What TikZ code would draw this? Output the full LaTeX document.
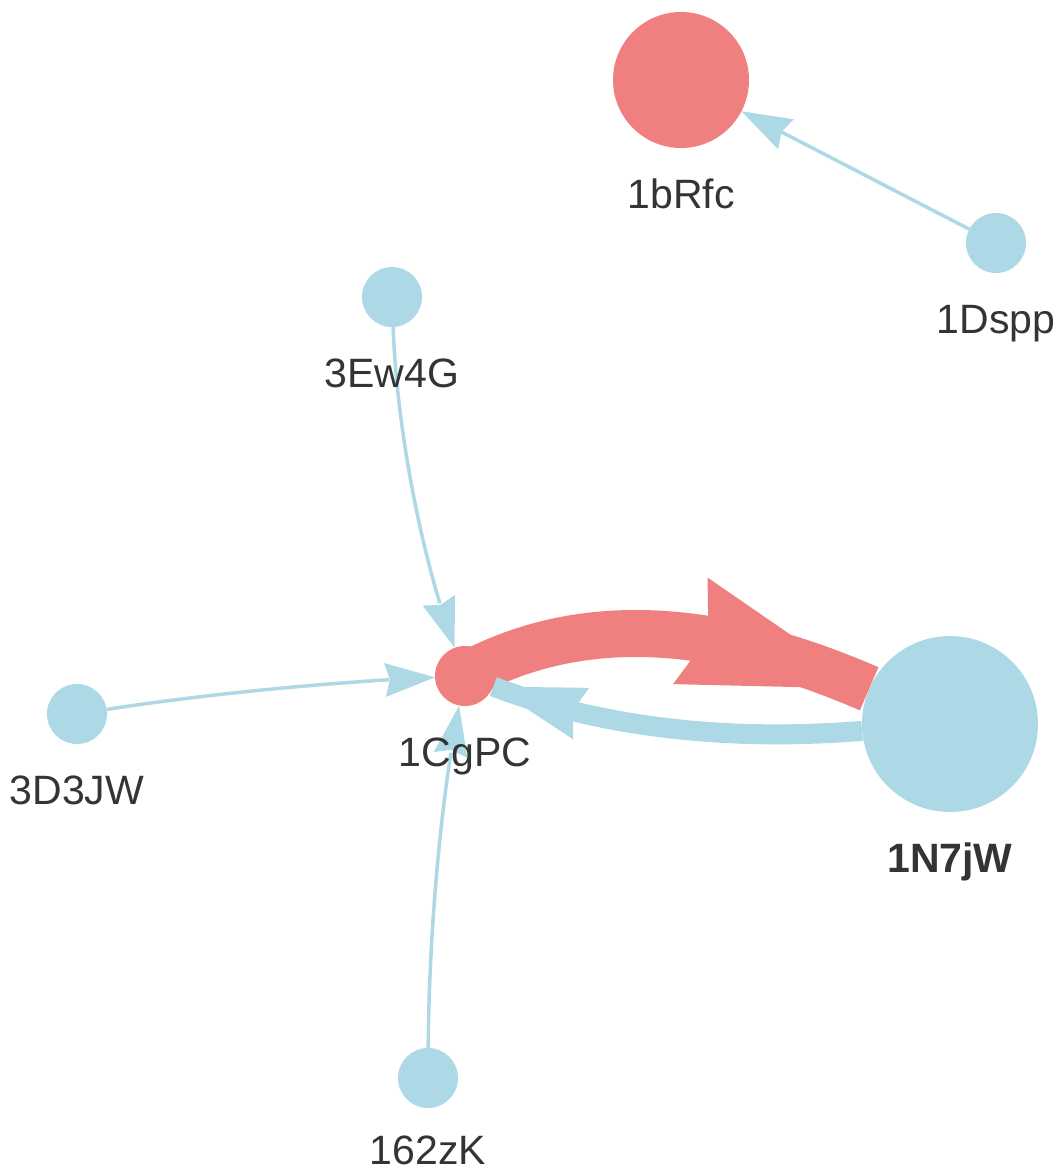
\documentclass[tikz,border=0pt]{standalone}
\usepackage{fontspec}
\setmainfont{Liberation Sans}
\usetikzlibrary{arrows.meta,bending,positioning,backgrounds}

\definecolor{nodeblue}{HTML}{ADD8E6}
\definecolor{nodered}{HTML}{F08080}
\definecolor{labelgray}{HTML}{343434}

\tikzset{
    vnode/.style={circle, inner sep=0pt, draw=none},
    bluenode/.style={vnode, fill=nodeblue},
    rednode/.style={vnode, fill=nodered},
    lbl/.style={inner sep=0pt, text height=30pt, text depth=9pt, text=labelgray,
        font=\fontsize{41}{48}\selectfont},
    thinedge/.style={draw=nodeblue, line width=3.5pt,
        -{Stealth[length=50pt,width=34pt,inset=5pt,line width=0pt,flex]}},
    redshaft/.style={draw=nodered, line width=47pt},
    redtip/.style={draw=nodered, line width=0.5pt,
        -{Stealth[length=188pt,width=112pt,inset=19pt,line width=0pt,flex]}},
    blueshaft/.style={draw=nodeblue, line width=20pt},
    bluetip/.style={draw=nodeblue, line width=0.5pt,
        -{Stealth[length=92pt,width=54pt,inset=9pt,line width=0pt,flex]}}
}

\begin{document}
\begin{tikzpicture}[x=1pt,y=-1pt]
\useasboundingbox (0,0) rectangle (1056,1174);

\node[rednode, minimum size=136pt] (brfc) at (681,80) {};
\node[bluenode, minimum size=60pt] (dspp) at (996,243) {};
\node[bluenode, minimum size=60pt] (ewg) at (392,297) {};
\node[bluenode, minimum size=60pt] (ddjw) at (77,714) {};
\node[rednode, minimum size=60pt] (cgpc) at (465,676) {};
\node[bluenode, minimum size=60pt] (zk) at (428,1078) {};
\node[bluenode, minimum size=176pt] (njw) at (950,724) {};

\node[lbl, below=30pt of brfc] (brfcL) {1bRfc};
\node[lbl, below=30pt of dspp] (dsppL) {1Dspp};
\node[lbl, below=30pt of ewg] (ewgL) {3Ew4G};
\node[lbl, below=30pt of ddjw] (ddjwL) {3D3JW};
\node[lbl, below=30pt of cgpc] (cgpcL) {1CgPC};
\node[lbl, below=26pt of zk] (zkL) {162zK};
\node[lbl, font=\fontsize{41}{48}\selectfont\bfseries, below=30pt of njw] (njwL) {1N7jW};

\begin{scope}[on background layer]
\draw[thinedge] (dspp) -- (brfc);
\draw[thinedge] (ewg) .. controls (397,432) and (422,559) .. (cgpc);
\draw[thinedge] (ddjw) .. controls (199,695) and (328,682) .. (cgpc);
\draw[thinedge] (zk) .. controls (429,926) and (442,792) .. (cgpc);

% heavy edges: shaft first, then the tip on a hairline
\draw[redshaft] (cgpc.center) .. controls (576,615) and (711,620) .. (njw);
\draw[redtip] (cgpc) .. controls (576,615) and (711,620) .. (njw);
\draw[blueshaft] (njw) .. controls (721,742) and (598,726) .. (cgpc);
\draw[bluetip] (njw) .. controls (721,742) and (598,726) .. (cgpc);
\end{scope}

\end{tikzpicture}
\end{document}
